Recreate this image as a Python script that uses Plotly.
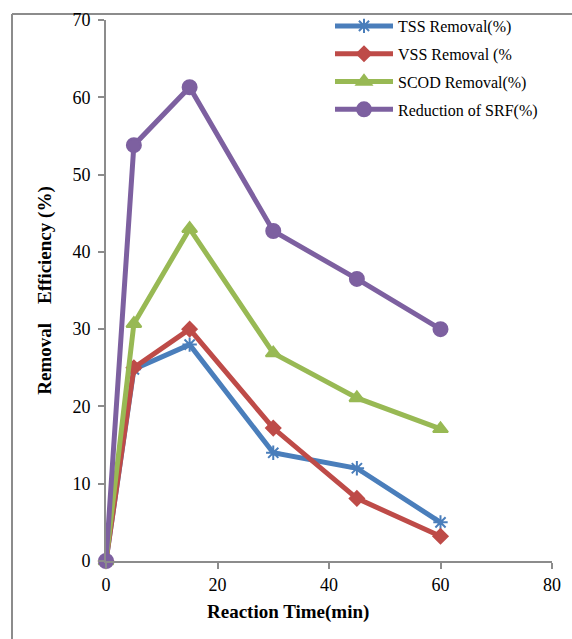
import plotly.graph_objects as go

time_min = [0, 5, 15, 30, 45, 60]
tss = [0, 24.8, 28.0, 14.0, 12.0, 5.0]
vss = [0, 25.0, 30.0, 17.2, 8.1, 3.2]
scod = [0, 30.7, 43.0, 26.9, 21.1, 17.1]
srf = [0, 53.8, 61.3, 42.7, 36.5, 30.0]
names = ["TSS Removal(%)", "VSS Removal (%", "SCOD Removal(%)", "Reduction of SRF(%)"]
colors = ["#4A7EBB", "#BE4B48", "#98B954", "#7D60A0"]
symbols = ["asterisk-open", "diamond", "triangle-up", "circle"]
sizes = [12, 11, 13, 14]

fig = go.Figure()
for i, (ys, nm, c, s, sz) in enumerate(zip([tss, vss, scod, srf], names, colors, symbols, sizes)):
    fig.add_trace(go.Scatter(
        x=time_min, y=ys, name=nm, mode="lines+markers", legendgroup=f"g{i}",
        line=dict(color=c, width=5),
        marker=dict(symbol=s, size=sz, color=c, line=dict(color=c, width=2)),
        cliponaxis=False,
    ))

W, H = 572, 639
L, R, T, B = 106, 20, 20, 78
pw, ph = W - L - R, H - T - B

def px2paper_x(px):
    return (px - L) / pw

def px2paper_y(py):
    return (H - B - py) / ph

border = dict(color="#8C8C8C", width=2)
fig.add_shape(type="line", xref="paper", yref="paper",
              x0=px2paper_x(12), x1=px2paper_x(12),
              y0=px2paper_y(H + 5), y1=px2paper_y(14), line=border, layer="below")
fig.add_shape(type="line", xref="paper", yref="paper",
              x0=px2paper_x(12), x1=px2paper_x(W + 5),
              y0=px2paper_y(14), y1=px2paper_y(14), line=border, layer="below")

fig.add_annotation(xref="paper", yref="paper", x=px2paper_x(288), y=px2paper_y(612),
                   text="<b>Reaction Time(min)</b>", showarrow=False,
                   font=dict(size=19, family="Liberation Serif", color="black"),
                   xanchor="center", yanchor="middle")

fig.update_layout(
    width=W, height=H,
    margin=dict(l=L, r=R, t=T, b=B, autoexpand=False),
    paper_bgcolor="white", plot_bgcolor="white",
    font=dict(family="Liberation Serif", color="black", size=16),
    showlegend=True,
    legend=dict(xref="container", yref="container",
                x=330 / W, y=1 - 9 / H, xanchor="left", yanchor="top",
                font=dict(family="Liberation Serif", size=16),
                bgcolor="rgba(0,0,0,0)", tracegroupgap=4, itemwidth=58),
    xaxis=dict(range=[0, 80], tickvals=[0, 20, 40, 60, 80], automargin=False,
               showline=True, linecolor="#8C8C8C", linewidth=2,
               ticks="outside", tickcolor="#8C8C8C", ticklen=6, tickwidth=2,
               showgrid=False, zeroline=False,
               tickfont=dict(size=18)),
    yaxis=dict(range=[0, 70], tickvals=[0, 10, 20, 30, 40, 50, 60, 70], automargin=False,
               showline=True, linecolor="#8C8C8C", linewidth=2,
               ticks="outside", tickcolor="#8C8C8C", ticklen=6, tickwidth=2,
               ticklabelstandoff=4,
               showgrid=False, zeroline=False,
               tickfont=dict(size=18),
               title=dict(text="<b>Removal    Efficiency (%)</b>", font=dict(size=19), standoff=16)),
)

fig.write_html("out.html", config={"displayModeBar": False},
               post_script="document.body.style.margin='0';document.body.style.overflow='hidden';window.scrollTo(0,0);")
